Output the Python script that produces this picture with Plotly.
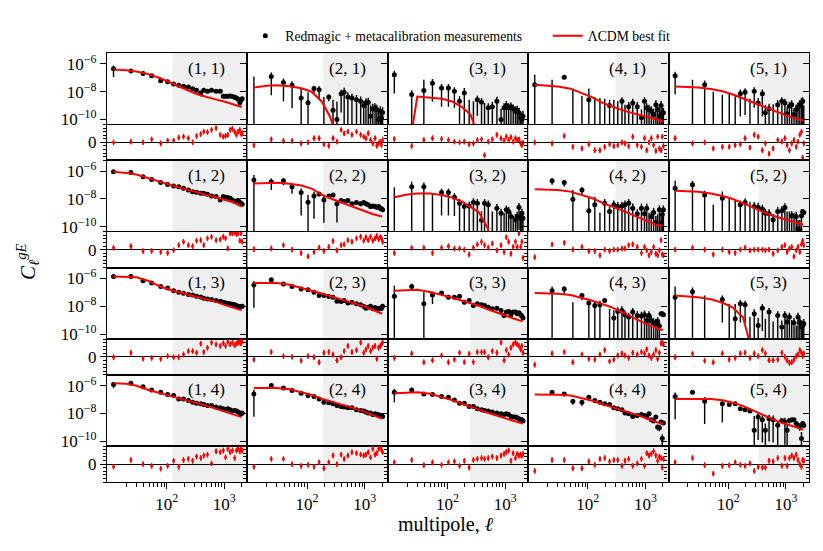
import numpy as np
import plotly.graph_objects as go
from plotly.subplots import make_subplots

# bandpowers (multipole centres) and the grid the best-fit curve was read on
ELL = [12, 24, 39, 55, 79, 104, 132, 162, 196, 238, 282, 330, 390, 440, 510, 600, 720,
       850, 960, 1050, 1150, 1260, 1380, 1510, 1620, 1740, 1860, 1950, 2040]
TH_ELL = [12, 20, 30, 50, 80, 120, 180, 250, 350, 500, 700, 1000, 1400, 2000]

# small-scale cut per lens bin (grey band)
SCALE_CUT = [127, 190, 250, 300, 340]
RES_ERR = 0.15

# C = log10 C_ell (None: negative bandpower), S = log10 sigma, R = residual, T = log10 theory
# naming: <lens bin><source bin>
C11 = [-6.35, -6.5, -6.69, -6.85, -7.2, -7.28, -7.45, -7.54, -7.61, -7.66, -7.78, -7.9, -8.09, -7.9, -7.97, -7.9, -7.97, -7.97, -8.33, -8.33, -8.33, -8.3, -8.35, -8.4, -8.45, -8.55, -8.8, -8.6, -8.5]
S11 = [-6.48, -7.1, -7.3, -7.45, -7.75, -7.9, -8.05, -8.15, -8.2, -8.25, -8.4, -8.5, -8.45, -8.5, -8.6, -8.5, -8.6, -8.6, -8.95, -8.95, -8.95, -8.9, -8.95, -9.0, -9.05, -9.15, -9.2, -9.2, -9.1]
R11 = [0, 0.04, 0, 0.17, -0.06, 0.1, 0.1, 0.27, 0.32, 0.23, 0, 0.36, 0.46, 0.6, 0.57, 0.7, 0.8, 0.42, 0.32, 0.36, 0.42, 0.7, 0.76, 0.6, 0.42, 0.6, 0.7, 0.48, 0.51]
T11 = [-6.4, -6.45, -6.55, -6.75, -7.05, -7.35, -7.7, -7.95, -8.2, -8.4, -8.55, -8.7, -8.9, -9.1]

C21 = [None, -6.9, -7.33, -7.54, -8.45, -8.8, -7.76, -7.85, None, -8.38, -9.33, -10.0, -8.14, -8.04, -8.38, -8.45, -8.57, -8.69, -9.0, -8.8, -8.76, -9.76, -9.24, -9.17, -9.28, -10.0, -9.4, -9.9, -9.5]
S21 = [-6.9, -6.92, -7.35, -7.55, -7.82, -8.12, -8.02, -7.96, -8.38, -8.67, -8.66, -8.75, -8.16, -8.0, -8.3, -8.45, -8.5, -8.6, -8.9, -8.75, -8.7, -9.0, -9.1, -9.1, -9.2, -9.3, -9.3, -9.4, -9.35]
R21 = [-0.15, 0.17, 0.08, 0.08, -0.06, 0, 0.23, 0.23, -0.1, -0.19, 0.23, 0.04, 0.7, 0.5, 0.6, 0.42, 0.6, 0.42, 0.32, 0.23, 0.51, 0.13, -0.06, 0.23, -0.19, -0.06, 0.04, -0.15, 0.13]
T21 = [-7.69, -7.57, -7.54, -7.6, -7.75, -8.0, -8.7, -9.8, -11.5, -13, -13, -13, -13, -13]

C31 = [-6.78, -8.2, -7.92, -7.38, -7.73, -7.73, -7.97, -8.69, -8.09, None, None, -8.57, -8.76, None, -9.16, -9.09, -8.69, -10.0, -9.16, -8.99, -9.16, -9.09, -9.23, -9.4, -9.33, -9.52, -9.88, -10.0, -9.76]
S31 = [-6.8, -8.2, -7.22, -7.4, -7.75, -7.75, -8.0, -8.57, -7.98, -8.57, -8.69, -8.6, -8.75, -8.81, -9.1, -9.0, -8.65, -9.3, -9.1, -8.95, -9.1, -9.05, -9.2, -9.3, -9.3, -9.4, -9.6, -9.7, -9.6]
R31 = [0.19, -0.2, 0.13, 0.23, 0.19, 0.13, 0.04, 0, 0.04, -0.1, -0.06, 0.13, 0.17, -0.72, 0.04, 0.17, 0.42, 0.23, 0.1, 0.32, 0.13, 0.29, 0.04, 0.23, 0.13, 0.17, -0.06, -0.15, -0.02]
T31 = [-13, -13, -8.35, -8.4, -8.5, -8.7, -9.1, -9.64, -11.5, -13, -13, -13, -13, -13]

C41 = [-7.5, None, -6.95, None, None, -8.57, None, None, None, -8.99, None, None, -8.69, None, -9.09, -8.81, -9.09, -9.88, -8.69, -9.16, -9.28, -9.4, -9.64, -8.93, -9.28, -9.76, -8.99, -9.57, -9.52]
S41 = [-6.87, -7.14, -7.5, -7.78, -8.3, -7.85, -8.4, -8.45, -8.5, -8.78, -8.57, -8.69, -8.7, -8.93, -9.0, -8.8, -9.0, -9.4, -8.7, -9.1, -9.2, -9.3, -9.4, -8.9, -9.2, -9.5, -8.95, -9.4, -9.4]
R41 = [0, -0.06, 0.36, -0.25, -0.34, -0.1, -0.44, -0.44, -0.25, -0.1, -0.21, -0.15, 0, -0.06, -0.21, 0.32, -0.15, -0.25, 0.23, -0.44, 0, 0.23, -0.15, -0.48, 0.32, -0.34, -0.44, 0.32, -0.21]
T41 = [-7.5, -7.55, -7.62, -7.78, -8.1, -8.4, -8.8, -9.05, -9.25, -9.45, -9.6, -9.75, -9.95, -10.15]

C51 = [-6.85, None, -7.5, None, None, None, None, -8.14, -8.04, None, -7.97, -8.81, -8.14, -9.52, -9.23, None, -8.93, -8.69, -8.81, -9.59, -9.04, -8.93, -9.64, -9.28, -9.09, -8.93, -8.76, -8.69, None]
S51 = [-6.87, -7.14, -7.5, -8.0, -8.21, -8.09, -8.33, -8.15, -8.05, -8.5, -8.0, -8.7, -8.15, -9.1, -9.1, -8.9, -8.9, -8.7, -8.8, -9.3, -9.0, -8.9, -9.4, -9.2, -9.05, -8.9, -8.75, -8.7, -9.0]
R51 = [0.23, -0.06, 0, -0.34, -0.25, -0.25, -0.15, -0.1, 0.23, -0.29, 0.42, 0.32, -0.44, -0.06, -0.63, -0.34, 0.13, 0.04, 0.23, -0.15, -0.44, -0.06, 0.13, -0.25, 0.04, 0.42, 0.6, -0.86, -0.06]
T51 = [-7.62, -7.65, -7.7, -7.8, -7.97, -8.2, -8.47, -8.73, -8.93, -9.2, -9.45, -9.7, -9.9, -10.07]

C12 = [-6.04, -6.09, -6.4, -6.59, -6.81, -6.95, -7.07, -7.11, -7.23, -7.35, -7.47, -7.52, -7.59, -7.59, -7.66, -7.78, -7.83, -8.07, -7.83, -7.88, -7.9, -7.95, -8.07, -8.19, -8.14, -8.11, -8.26, -8.3, -8.38]
S12 = [-6.55, -6.7, -7.0, -7.2, -7.4, -7.55, -7.7, -7.7, -7.85, -7.95, -8.1, -8.1, -8.2, -8.2, -8.25, -8.4, -8.45, -8.6, -8.45, -8.5, -8.5, -8.55, -8.65, -8.8, -8.75, -8.7, -8.85, -8.9, -8.95]
R12 = [0.1, 0.19, -0.08, -0.08, -0.13, -0.19, -0.04, 0.25, 0.44, 0.25, 0.19, 0.5, 0.53, 0.25, 0.63, 0.72, 0.53, 0.57, 0.72, 0.63, 0.06, 0.91, 0.91, 0.95, 0.88, 0.91, 0.5, 0.91, 0.44]
T12 = [-6.04, -6.12, -6.24, -6.5, -6.78, -7.0, -7.22, -7.38, -7.53, -7.67, -7.83, -8.02, -8.22, -8.54]

C22 = [-6.64, -6.76, -6.69, -7.11, -7.54, -8.23, -7.78, -7.64, -8.07, -7.78, -7.71, -8.35, -8.11, -8.19, -8.11, -8.35, -8.26, -8.35, -8.26, -8.35, -8.42, -8.54, -8.5, -8.54, -8.59, -8.54, -8.66, -8.71, -8.78]
S22 = [-6.53, -6.89, -6.98, -7.27, -7.55, -7.87, -7.79, -8.1, -8.08, -8.3, -8.2, -8.37, -8.6, -8.7, -8.6, -8.85, -8.75, -8.85, -8.75, -8.85, -8.9, -9.0, -9.0, -9.0, -9.1, -9.0, -9.15, -9.2, -9.25]
R22 = [0.02, 0.06, 0.25, 0, -0.19, -0.38, -0.13, 0.11, -0.08, 0.15, 0.48, -0.04, 0.25, 0.29, 0.53, 0.44, 0.63, 0.72, 0.5, 0.69, 0.53, 0.72, 0.5, 0.63, 0.76, 0.57, 0.69, 0.63, 0.44]
T22 = [-6.88, -6.84, -6.83, -6.9, -7.03, -7.25, -7.68, -7.95, -8.17, -8.42, -8.66, -8.9, -9.1, -9.26]

C32 = [None, -7.11, -7.11, None, -7.54, -7.54, -7.88, -8.3, -8.54, -8.5, -8.26, -8.3, -9.54, -8.3, -8.42, None, -8.66, -9.02, None, -8.78, -8.9, -9.26, None, -9.5, -9.26, -8.59, -9.38, -9.02, -9.38]
S32 = [-7.16, -7.02, -7.1, -7.59, -7.55, -7.55, -7.9, -8.3, -8.5, -8.45, -8.25, -8.3, -9.0, -8.3, -8.4, -8.9, -8.65, -9.0, -9.0, -8.75, -8.85, -9.2, -9.2, -9.3, -9.2, -8.6, -9.3, -9.0, -9.3]
R32 = [-0.19, 0.1, 0.1, -0.19, 0.11, 0.19, 0.06, 0.06, 0, -0.27, 0.11, 0.29, 0.44, 0.25, 0.11, 0.34, -0.04, 0.25, -0.13, 0.69, 0.44, -0.23, 0.15, 0.44, 0.15, 0.91, 0.15, 0.44, -0.46]
T32 = [-7.88, -7.68, -7.6, -7.6, -7.72, -7.9, -8.2, -8.55, -8.95, -10.1, -13, -13, -13, -13]

C42 = [None, -6.69, -6.81, -8.02, -7.35, -8.85, -8.42, None, -8.3, -8.9, -8.42, -8.54, -8.5, -8.42, -8.3, -8.66, -9.07, -8.66, -9.07, -8.66, None, -9.26, -8.97, -9.69, None, -8.78, -9.73, -9.11, -8.78]
S42 = [-10.8, -7.01, -7.13, -7.46, -7.6, -7.87, -7.96, -8.97, -8.3, -8.8, -8.4, -8.5, -8.5, -8.4, -8.3, -8.6, -9.0, -8.6, -9.0, -8.6, -9.0, -9.2, -8.9, -9.4, -9.1, -8.75, -9.4, -9.05, -8.75]
R42 = [-0.42, 0.29, 0.38, 0, 0.15, -0.08, -0.08, -0.32, 0, -0.08, 0, 0, 0.06, 0.06, 0.25, 0.3, 0.15, -0.19, 0.15, -0.04, -0.32, -0.13, 0.15, -0.23, -0.32, -0.04, 0.53, -0.27, -0.32]
T42 = [-7.3, -7.32, -7.35, -7.47, -7.7, -7.95, -8.28, -8.5, -8.72, -9.0, -9.27, -9.55, -9.8, -9.97]

C52 = [-7.23, -6.98, -7.71, None, -7.95, None, None, -8.42, -8.26, None, -8.54, -8.59, -8.73, -9.02, -9.07, -9.5, -8.9, -8.85, -8.61, None, None, -9.21, None, -9.26, -10.16, -10.21, -9.21, -8.9, -8.97]
S52 = [-6.84, -6.98, -7.71, -8.42, -7.64, -7.95, -8.07, -8.4, -8.25, -8.2, -8.5, -8.55, -8.7, -9.0, -9.0, -9.3, -8.85, -8.8, -8.6, -8.9, -8.9, -9.15, -9.0, -9.2, -9.6, -9.6, -9.2, -9.4, -9.45]
R52 = [0, 0.11, 0, -0.27, 0, -0.13, -0.19, 0, 0.1, -0.04, 0, 0, 0, -0.04, 0, -0.23, -0.04, 0.15, 0.25, -0.13, 0.06, 0.15, -0.38, -0.04, 0.15, -0.13, 0.3, 0.5, 0.25]
T52 = [-7.4, -7.43, -7.48, -7.6, -7.78, -8.0, -8.28, -8.55, -8.82, -9.1, -9.3, -9.5, -9.68, -9.85]

C13 = [-5.85, -5.85, -6.16, -6.33, -6.57, -6.69, -6.88, -7.0, -7.07, -7.16, -7.19, -7.28, -7.33, -7.42, -7.47, -7.52, -7.59, -7.64, -7.71, -7.76, -7.78, -7.83, -7.85, -7.9, -7.95, -8.0, -8.04, -8.02, -8.0]
S13 = [-6.45, -6.45, -6.76, -6.93, -7.17, -7.29, -7.48, -7.6, -7.67, -7.76, -7.79, -7.88, -7.93, -8.02, -8.07, -8.12, -8.19, -8.24, -8.31, -8.36, -8.38, -8.43, -8.45, -8.5, -8.55, -8.6, -8.64, -8.62, -8.6]
R13 = [-0.02, 0.23, -0.1, -0.06, -0.11, 0.04, -0.02, -0.02, 0.13, 0.32, 0.32, 0.23, 0.74, 0.27, 0.51, 0.8, 0.7, 0.61, 0.76, 0.61, 0.84, 0.7, 0.8, 0.65, 0.74, 0.8, 0.84, 0.76, 0.88]
T13 = [-5.85, -5.86, -5.92, -6.2, -6.6, -6.85, -7.05, -7.2, -7.35, -7.5, -7.67, -7.9, -8.1, -8.3]

C23 = [-6.47, -6.09, -6.4, -6.57, -6.76, -6.81, -7.0, -7.23, -7.23, -7.3, -7.35, -7.64, -7.66, -7.59, -7.76, -7.71, -7.83, -7.9, -8.0, -8.14, -8.07, -8.0, -8.19, -8.09, -8.19, -8.14, -8.19, -8.14, -8.0]
S23 = [-6.48, -6.69, -7.0, -7.17, -7.36, -7.41, -7.6, -7.83, -7.83, -7.9, -7.95, -8.24, -8.26, -8.19, -8.36, -8.31, -8.43, -8.5, -8.6, -8.74, -8.67, -8.6, -8.79, -8.69, -8.79, -8.74, -8.79, -8.74, -8.6]
R23 = [-0.15, 0.27, 0.04, 0, -0.21, 0.04, -0.02, -0.3, 0.23, 0.27, 0.13, -0.19, -0.02, 0.32, 0.61, 0.27, 0.38, 0.8, 0.23, 0.42, 0.61, 0.32, 0.51, 0.61, -0.11, 0.51, 0.61, 0.7, 0.8]
T23 = [-6.33, -6.33, -6.33, -6.45, -6.66, -6.88, -7.08, -7.25, -7.42, -7.63, -7.83, -8.02, -8.28, -8.54]

C33 = [-7.28, -6.57, -7.83, -7.19, -7.04, -7.35, -7.35, -7.28, -7.71, -7.59, -7.95, -7.83, -7.9, -7.95, -8.07, -8.19, -8.14, -8.3, -8.66, -8.42, -8.38, -8.61, -8.42, -8.42, -8.54, -8.47, -8.61, -8.71, -8.85]
S33 = [-6.6, -6.84, -7.07, -7.3, -7.6, -7.9, -7.9, -7.83, -8.26, -8.14, -8.5, -8.38, -8.45, -8.5, -8.62, -8.74, -8.69, -8.85, -9.21, -8.97, -8.93, -9.16, -8.97, -8.97, -9.09, -9.02, -9.16, -9.26, -9.4]
R33 = [-0.06, 0.19, -0.3, -0.19, 0.08, -0.3, -0.15, 0.23, -0.29, 0.17, -0.29, 0.27, 0.27, 0.27, -0.02, 0.32, 0.23, 0.8, -0.19, 0.38, 0.13, 0.51, 0.7, 0.8, 0.7, 0.61, 0.42, 0.61, 0.23]
T33 = [-6.88, -6.83, -6.82, -6.98, -7.17, -7.38, -7.6, -7.78, -7.97, -8.22, -8.45, -8.65, -8.88, -9.09]

C43 = [None, -6.88, -6.76, None, -7.23, -7.76, -7.95, -7.9, -7.59, None, -8.85, -8.38, -8.3, -8.62, -8.78, -8.42, -8.66, -8.71, -8.62, -9.02, -8.66, -9.02, -9.19, -9.26, -9.09, -9.42, -8.54, -8.54, -8.61]
S43 = [-10.8, -6.88, -7.0, -7.71, -7.5, -7.76, -7.95, -7.9, -8.1, -8.2, -8.44, -8.38, -8.3, -8.6, -8.75, -8.42, -8.65, -8.7, -8.6, -9.0, -8.65, -9.0, -9.15, -9.2, -9.05, -9.35, -9.1, -9.1, -9.2]
R43 = [-0.44, 0.19, 0.27, -0.3, 0.13, -0.11, -0.15, 0.13, 0.38, -0.25, -0.15, 0.08, 0.19, 0.08, -0.06, 0.23, 0.13, 0.27, 0.19, 0.42, 0.08, -0.06, 0.13, 0.38, -0.11, 0.23, 0.76, 0.8, 0.7]
T43 = [-7.04, -7.07, -7.1, -7.19, -7.4, -7.6, -7.85, -8.05, -8.33, -8.65, -8.95, -9.25, -9.5, -9.73]

C53 = [-7.35, -6.95, None, None, -7.52, None, -8.9, -7.83, -7.9, None, -8.54, -9.38, -8.14, None, -8.42, None, -8.66, -9.5, -8.66, -9.14, -8.78, None, -9.19, None, -8.78, -9.14, -9.5, -9.38, -9.26]
S53 = [-6.65, -6.95, -7.23, -10.8, -7.53, -7.83, -7.87, -7.85, -7.92, -8.78, -8.5, -9.0, -8.15, -8.9, -8.4, -9.1, -8.65, -9.2, -8.65, -9.1, -8.75, -9.0, -9.1, -9.4, -8.75, -9.1, -9.3, -9.3, -9.2]
R53 = [-0.02, 0.17, -0.21, -0.3, 0.19, -0.15, -0.06, 0.19, 0.23, -0.06, 0.19, 0.04, 0.38, 0.19, -0.19, -0.19, -0.15, 0.23, 0, -0.19, -0.34, -0.3, -0.15, 0.04, 0.13, 0.38, 0.23, 0.04, 0.19]
T53 = [-7.23, -7.28, -7.36, -7.5, -7.75, -8.1, -8.8, -11.0, -13, -13, -13, -13, -13, -13]

C14 = [-5.92, -5.83, -6.07, -6.3, -6.47, -6.64, -6.71, -6.95, -6.95, -7.07, -7.19, -7.26, -7.3, -7.35, -7.42, -7.42, -7.54, -7.59, -7.66, -7.73, -7.66, -7.73, -7.83, -7.78, -7.83, -7.9, -7.97, -8.02, -7.97]
S14 = [-6.27, -6.43, -6.67, -6.9, -7.07, -7.24, -7.31, -7.55, -7.55, -7.67, -7.79, -7.86, -7.9, -7.95, -8.02, -8.02, -8.14, -8.19, -8.26, -8.33, -8.26, -8.33, -8.43, -8.38, -8.43, -8.5, -8.57, -8.62, -8.57]
R14 = [-0.15, 0.23, 0, -0.1, -0.25, -0.1, 0.19, -0.15, 0.23, 0.29, 0.19, 0.42, 0.34, 0.48, 0.53, 0.04, 0.72, 0.67, 0.76, 0.38, 0.86, 0.67, 0.76, 0.34, 0.76, 0.86, 0.72, 0.86, 0.76]
T14 = [-5.83, -5.86, -6.0, -6.33, -6.55, -6.75, -6.95, -7.08, -7.27, -7.45, -7.65, -7.85, -8.05, -8.26]

C24 = [-6.59, -5.99, -6.16, -6.35, -6.54, -6.71, -6.78, -6.95, -7.19, -7.23, -7.3, -7.42, -7.5, -7.54, -7.59, -7.59, -7.73, -7.78, -7.83, -7.9, -7.97, -7.97, -8.07, -8.02, -8.07, -8.09, -8.14, -8.14, -8.21]
S24 = [-6.6, -6.59, -6.76, -6.95, -7.14, -7.31, -7.38, -7.55, -7.79, -7.83, -7.9, -8.02, -8.1, -8.14, -8.19, -8.19, -8.33, -8.38, -8.43, -8.5, -8.57, -8.57, -8.67, -8.62, -8.67, -8.69, -8.74, -8.74, -8.81]
R24 = [-0.15, 0.29, 0.29, 0, -0.1, -0.04, -0.15, 0.1, -0.23, 0.1, 0.48, 0, 0.53, 0.29, 0.48, 0.67, 0.61, 0.53, 0.48, 0.53, 0.67, 0.38, 0.86, 0.53, 0.61, 0.86, 0.95, 0.8, 0.67]
T24 = [-6.16, -6.16, -6.16, -6.26, -6.45, -6.66, -6.93, -7.1, -7.28, -7.47, -7.67, -7.88, -8.12, -8.38]

C34 = [-6.47, -6.3, -6.59, -6.64, -6.78, -6.83, -7.02, -7.26, -7.26, -7.5, -7.5, -7.66, -7.73, -7.78, -7.83, -7.9, -7.97, -8.02, -8.07, -8.02, -8.07, -8.21, -8.26, -8.26, -8.3, -8.38, -8.45, -8.45, -8.54]
S34 = [-6.56, -6.9, -7.19, -7.24, -7.38, -7.43, -7.62, -7.86, -7.86, -8.1, -8.1, -8.26, -8.33, -8.38, -8.43, -8.5, -8.57, -8.62, -8.67, -8.62, -8.67, -8.81, -8.86, -8.86, -8.9, -8.98, -9.05, -9.05, -9.14]
R34 = [0.1, 0.23, -0.06, 0.1, -0.04, 0.1, 0.15, -0.1, 0.19, -0.19, 0.23, 0.29, 0.34, 0.29, 0.34, 0.42, 0.34, 0.48, 0.57, 0.67, 0.76, 0.19, 0.61, 0.34, 0.57, 0.48, 0.53, 0.48, 0.57]
T34 = [-6.54, -6.48, -6.47, -6.58, -6.8, -7.04, -7.3, -7.48, -7.72, -7.95, -8.14, -8.3, -8.5, -8.73]

C44 = [None, -6.47, -6.59, -7.11, -7.19, -6.83, -7.07, -7.19, -7.3, -7.35, -7.59, -7.66, -7.73, -7.97, -8.02, -8.21, -8.14, -8.07, -8.14, -8.26, -8.02, -8.45, -8.54, -8.26, -8.97, -9.02, -8.61, -9.81, -8.69]
S44 = [-10.8, -7.07, -7.19, -7.46, -7.54, -7.43, -7.67, -7.79, -7.9, -7.95, -8.19, -8.26, -8.33, -8.57, -8.62, -8.81, -8.74, -8.67, -8.74, -8.86, -8.62, -9.05, -9.14, -8.86, -9.32, -9.37, -9.21, -9.8, -9.29]
R44 = [-0.38, 0.23, 0.23, -0.23, -0.23, 0.15, -0.04, 0.29, 0.34, 0.15, 0.23, 0.23, -0.1, 0.19, 0.29, -0.1, 0.04, 0.29, -0.1, 0.61, 0.48, 0.57, 0.72, 0.48, 0.19, 0.42, 0.34, -0.19, 0.29]
T44 = [-6.64, -6.64, -6.65, -6.71, -6.88, -7.08, -7.33, -7.5, -7.7, -7.9, -8.1, -8.33, -8.55, -8.78]

C54 = [-6.78, -6.47, -7.11, None, -7.3, -7.35, -7.3, -7.66, -7.73, -7.83, -9.21, -8.26, -8.45, -9.21, -8.38, -8.45, -8.85, -8.5, -8.61, -9.21, -8.5, -8.45, -8.45, -8.73, -8.85, -8.97, -9.81, -8.73, -8.85]
S54 = [-6.79, -7.0, -7.12, -10.8, -7.32, -7.95, -7.9, -8.26, -8.33, -8.43, -8.22, -8.27, -8.46, -8.9, -8.39, -8.46, -8.86, -8.9, -8.62, -9.0, -8.9, -8.9, -8.9, -9.2, -9.3, -9.3, -9.5, -9.2, -9.3]
R54 = [0.1, 0.34, -0.06, -0.53, -0.1, -0.06, 0.1, -0.04, -0.1, 0.04, -0.38, -0.15, -0.19, -0.19, 0.19, 0.15, 0.34, -0.1, 0.34, -0.1, 0.34, 0.48, 0.34, 0.53, 0.23, 0, -0.15, 0.23, 0.19]
T54 = [-6.95, -6.95, -6.95, -6.96, -7.05, -7.22, -7.45, -7.72, -8.0, -8.33, -8.55, -8.76, -8.95, -9.16]

PANELS = {
    (1, 1): (C11, S11, R11, T11), (2, 1): (C21, S21, R21, T21), (3, 1): (C31, S31, R31, T31),
    (4, 1): (C41, S41, R41, T41), (5, 1): (C51, S51, R51, T51),
    (1, 2): (C12, S12, R12, T12), (2, 2): (C22, S22, R22, T22), (3, 2): (C32, S32, R32, T32),
    (4, 2): (C42, S42, R42, T42), (5, 2): (C52, S52, R52, T52),
    (1, 3): (C13, S13, R13, T13), (2, 3): (C23, S23, R23, T23), (3, 3): (C33, S33, R33, T33),
    (4, 3): (C43, S43, R43, T43), (5, 3): (C53, S53, R53, T53),
    (1, 4): (C14, S14, R14, T14), (2, 4): (C24, S24, R24, T24), (3, 4): (C34, S34, R34, T34),
    (4, 4): (C44, S44, R44, T44), (5, 4): (C54, S54, R54, T54),
}

FONT = "Liberation Serif"
XRANGE = [0.966, 3.40]
YRANGE = [-10.36, -5.21]
FLOOR = -12.0

logl = np.log10(ELL)
logt = np.log10(TH_ELL)
minor_x = np.log10([k * 10 ** d for d in (1, 2) for k in range(2, 10)] + [2000])


def err_bars(c, s):
    # error bars built in log space from value and sigma
    y, up, down = [], [], []
    for cv, sv in zip(c, s):
        sig = 10 ** sv
        if cv is None:
            y.append(FLOOR)
            up.append(sv - FLOOR)
            down.append(0)
            continue
        val = 10 ** cv
        top = np.log10(val + sig)
        bot = np.log10(val - sig) if val > sig else FLOOR
        y.append(cv)
        up.append(top - cv)
        down.append(cv - bot)
    return y, up, down


def ax_names(row, col):
    idx = (row - 1) * 5 + col
    sfx = "" if idx == 1 else str(idx)
    return "x" + sfx, "y" + sfx, "xaxis" + sfx, "yaxis" + sfx


fig = make_subplots(rows=8, cols=5, row_heights=[2, 1] * 4,
                    vertical_spacing=0, horizontal_spacing=0)

first = True
for (lens, src), (c, s, r, t) in PANELS.items():
    rm, rr, col = 2 * src - 1, 2 * src, lens
    y, up, down = err_bars(c, s)

    fig.add_trace(go.Scatter(
        x=logl, y=y, mode="markers",
        name="Redmagic + metacalibration measurements" + "\u00a0" * 6,
        showlegend=first,
        marker=dict(color="black", size=5),
        error_y=dict(type="data", symmetric=False, array=up, arrayminus=down,
                     color="black", thickness=1.4, width=0),
    ), row=rm, col=col)
    fig.add_trace(go.Scatter(
        x=logt, y=t, mode="lines", name="ΛCDM best fit", showlegend=first,
        line=dict(color="#ff0000", width=2),
    ), row=rm, col=col)
    fig.add_trace(go.Scatter(
        x=logl, y=r, mode="markers", showlegend=False,
        marker=dict(color="#ff0000", size=4.5, symbol="diamond-tall"),
        error_y=dict(type="constant", value=RES_ERR, color="#ff0000", thickness=1.2, width=0),
    ), row=rr, col=col)
    first = False

    cut = np.log10(SCALE_CUT[lens - 1])
    for row in (rm, rr):
        xn, yn, _, _ = ax_names(row, col)
        fig.add_shape(type="rect", xref=xn, yref=yn + " domain", x0=cut, x1=XRANGE[1],
                      y0=0, y1=1, fillcolor="#efefef", line_width=0, layer="below")

    xn, yn, _, _ = ax_names(rm, col)
    fig.add_annotation(xref=xn + " domain", yref=yn + " domain", x=0.71, y=0.79,
                       xanchor="center", yanchor="middle",
                       text=f"({lens}, {src})", showarrow=False,
                       font=dict(family=FONT, size=17, color="black"))


def y_style(main):
    if main:
        d = dict(range=YRANGE, tickmode="array", tickvals=[-10, -8, -6],
                 ticktext=["10<sup>−10</sup>", "10<sup>−8</sup>", "10<sup>−6</sup>"], zeroline=False)
    else:
        d = dict(range=[-1, 1], tickmode="array", tickvals=[0], ticktext=["0"],
                 zeroline=True, zerolinecolor="black", zerolinewidth=1)
    d.update(showgrid=False, automargin=False, ticklen=6, tickwidth=1, tickcolor="black",
             tickfont=dict(family=FONT, size=17, color="black"))
    return d


# axes styling: left ticks point outward (reading as inward ticks of the panel to the left)
for row in range(1, 9):
    main = row % 2 == 1
    for col in range(1, 6):
        _, yn, xa, ya = ax_names(row, col)
        xax = dict(range=XRANGE, showgrid=False, zeroline=False, showline=True, automargin=False,
                   linecolor="black", linewidth=1.3, mirror=True)
        if row == 8:
            xax.update(tickmode="array", tickvals=[2, 3],
                       ticktext=["10<sup>2</sup>", "10<sup>3</sup>"],
                       ticks="outside", ticklen=6, tickwidth=1, tickcolor="black",
                       tickfont=dict(family=FONT, size=17, color="black"),
                       minor=dict(tickmode="array", tickvals=list(minor_x), ticks="outside",
                                  ticklen=3.5, tickcolor="black", tickwidth=0.8))
        else:
            xax.update(showticklabels=False, ticks="")
        fig.layout[xa].update(xax)

        yax = y_style(main)
        yax.update(side="left", ticks="outside", showline=True, linecolor="black",
                   linewidth=1.3, mirror=True, showticklabels=(col == 1))
        if not main:
            yax["minor"] = dict(dtick=0.2, tick0=0, ticks="outside", ticklen=3,
                                tickcolor="black", tickwidth=0.8)
        fig.layout[ya].update(yax)

    # inward ticks on the right edge of the last column
    _, yn5, _, _ = ax_names(row, 5)
    xn5 = yn5.replace("y", "x")
    extra = 40 + row
    ext = y_style(main)
    ext.update(overlaying=yn5, anchor=xn5, side="right", ticks="inside",
               showticklabels=False, showline=False)
    if not main:
        ext["zeroline"] = False
        ext["minor"] = dict(dtick=0.2, tick0=0, ticks="inside", ticklen=3,
                            tickcolor="black", tickwidth=0.8)
    fig.layout[f"yaxis{extra}"] = ext
    fig.add_trace(go.Scatter(x=[None], y=[None], xaxis=xn5, yaxis=f"y{extra}",
                             showlegend=False, hoverinfo="skip"))

fig.add_annotation(xref="paper", yref="paper", x=0.483, y=-0.1, yanchor="middle",
                   text="multipole, <i>ℓ</i>", showarrow=False,
                   font=dict(family=FONT, size=20, color="black"))
fig.add_annotation(xref="paper", yref="paper", x=-0.1125, y=0.513, textangle=-90,
                   xanchor="center", yanchor="middle",
                   text="<i>C</i><sub><i>ℓ</i></sub><sup><i>gE</i></sup>", showarrow=False,
                   font=dict(family=FONT, size=21, color="black"))

# the page adds an 8 px body margin, so the figure is drawn 8 px smaller and offset
fig.update_layout(
    width=815, height=543,
    margin=dict(l=99, r=14, t=45, b=69, autoexpand=False),
    paper_bgcolor="white", plot_bgcolor="white",
    font=dict(family=FONT, color="black"),
    legend=dict(orientation="h", x=0.197, y=1.04, xanchor="left", yanchor="middle",
                font=dict(family=FONT, size=13.7, color="black"),
                bgcolor="rgba(0,0,0,0)", traceorder="normal"),
)

fig.write_html("out.html")
